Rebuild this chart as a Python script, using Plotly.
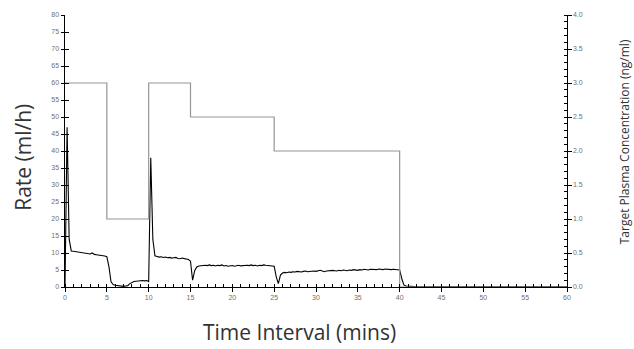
import numpy as np
import plotly.graph_objects as go

# Infusion rate (ml/h) sampled every 0.25 min from 0 to 42 min
rate_fine = [
    0, 47, 14, 10.6, 10.5, 10.4, 10.3, 10.2, 10.1, 9.9, 9.8, 9.9, 9.7, 10.0, 9.6, 9.5,
    9.4, 9.5, 9.2, 9.1, 8.9, 6.0, 1.5, 0.7, 0.5, 0.4, 0.3, 0.3, 0.2, 0.3, 0.4, 1.0,
    1.4, 1.6, 1.7, 1.8, 1.7, 1.9, 1.8, 1.9, 1.6, 38, 14, 9.2, 9.0, 8.8, 8.9, 8.7,
    8.8, 8.6, 8.7, 8.5, 8.6, 8.7, 8.4, 8.3, 8.5, 8.4, 8.2, 8.1, 7.6, 2.0, 4.8, 5.9,
    6.2, 6.3, 6.2, 6.4, 6.3, 6.5, 6.3, 6.4, 6.2, 6.4, 6.3, 6.5, 6.2, 6.3, 6.1, 6.2,
    6.3, 6.1, 6.2, 6.4, 6.2, 6.3, 6.2, 6.4, 6.3, 6.5, 6.3, 6.4, 6.2, 6.4, 6.3, 6.5,
    6.4, 6.3, 6.4, 6.3, 6.1, 3.0, 1.0, 3.5, 4.1, 4.3, 4.2, 4.4, 4.3, 4.5, 4.4, 4.6,
    4.5, 4.4, 4.6, 4.7, 4.5, 4.6, 4.8, 4.7, 4.6, 4.8, 4.9, 4.7, 4.5, 4.7, 4.8, 4.7,
    4.9, 4.8, 4.7, 4.9, 4.8, 5.0, 4.9, 4.8, 5.0, 4.9, 5.1, 5.0, 4.9, 5.1, 5.0, 5.2,
    5.1, 5.0, 5.2, 5.1, 5.2, 5.1, 5.3, 5.2, 5.1, 5.3, 5.2, 5.2, 5.1, 5.2, 5.1, 5.2,
    5.0, 2.5, 0.6, 0.3, 0.2, 0.15, 0.1, 0.1, 0.08,
]
# Remaining rate readings after the infusion stops
tail_time = [44, 46, 48, 50, 52, 54, 56, 58, 60]
tail_rate = [0.05, 0.06, 0.05, 0.04, 0.05, 0.05, 0.04, 0.05, 0.05]

# Target plasma concentration (ng/ml), step changes
target_time = [0, 5, 10, 15, 25, 40, 60]
target_conc = [3.0, 1.0, 3.0, 2.5, 2.0, 0.0, 0.0]

rate_time = list(np.arange(len(rate_fine)) * 0.25) + tail_time
rate_vals = rate_fine + tail_rate

tick_font = dict(family="Liberation Sans, Arial, sans-serif", size=7, color="#707070")
title_font_family = "Open Sans, Noto Sans, sans-serif"

fig = go.Figure()
fig.add_trace(go.Scatter(
    x=target_time, y=target_conc, mode="lines", line_shape="hv",
    line=dict(color="rgb(150,150,150)", width=1.2), yaxis="y2", showlegend=False,
))
fig.add_trace(go.Scatter(
    x=rate_time, y=rate_vals, mode="lines",
    line=dict(color="black", width=1.1), showlegend=False,
))
# invisible helpers so the inner tick axes get drawn
fig.add_trace(go.Scatter(x=[0], y=[0], xaxis="x2", yaxis="y3", mode="markers",
                         marker=dict(opacity=0), hoverinfo="skip", showlegend=False))
fig.add_trace(go.Scatter(x=[0], y=[0], xaxis="x2", yaxis="y4", mode="markers",
                         marker=dict(opacity=0), hoverinfo="skip", showlegend=False))

axis_common = dict(showgrid=False, zeroline=False, showline=True, linecolor="black",
                   linewidth=1, tickcolor="black", tickwidth=1, tickfont=tick_font)

fig.update_layout(
    width=634, height=349,
    margin=dict(l=65, r=67, t=14.5, b=61.5),
    paper_bgcolor="white", plot_bgcolor="white",
    xaxis=dict(range=[0, 60], dtick=5, ticks="outside", ticklen=3.5,
               minor=dict(dtick=1, ticks="inside", ticklen=3, tickcolor="black"),
               **axis_common),
    xaxis2=dict(range=[0, 60], dtick=5, ticks="inside", ticklen=3.5, overlaying="x",
                showticklabels=False, anchor="y", side="bottom", **axis_common),
    yaxis=dict(range=[0, 80], dtick=5, ticks="outside", ticklen=3.5, **axis_common),
    yaxis3=dict(range=[0, 80], dtick=5, ticks="inside", ticklen=3.5, overlaying="y",
                showticklabels=False, anchor="x", side="left", **axis_common),
    yaxis2=dict(range=[0, 4], dtick=0.5, tickformat=".1f", side="right", overlaying="y",
                ticks="outside", ticklen=3.5, anchor="x",
                minor=dict(dtick=0.1, ticks="inside", ticklen=3, tickcolor="black"),
                **axis_common),
    yaxis4=dict(range=[0, 4], dtick=0.5, side="right", overlaying="y", anchor="x",
                ticks="inside", ticklen=3.5, showticklabels=False, **axis_common),
)

fig.add_annotation(text="Rate (ml/h)", xref="paper", yref="paper", x=-0.084, y=0.478,
                   xanchor="center", yanchor="middle", textangle=-90, showarrow=False,
                   font=dict(family=title_font_family, size=21, color="#333333"))
fig.add_annotation(text="Time Interval (mins)", xref="paper", yref="paper", x=0.467, y=-0.167,
                   xanchor="center", yanchor="middle", showarrow=False,
                   font=dict(family=title_font_family, size=21, color="#333333"))
fig.add_annotation(text="Target Plasma Concentration (ng/ml)", xref="paper", yref="paper",
                   x=1.114, y=0.533, xanchor="center", yanchor="middle",
                   textangle=-90, showarrow=False,
                   font=dict(family=title_font_family, size=12, color="#333333"))

fig.write_html("out.html")
